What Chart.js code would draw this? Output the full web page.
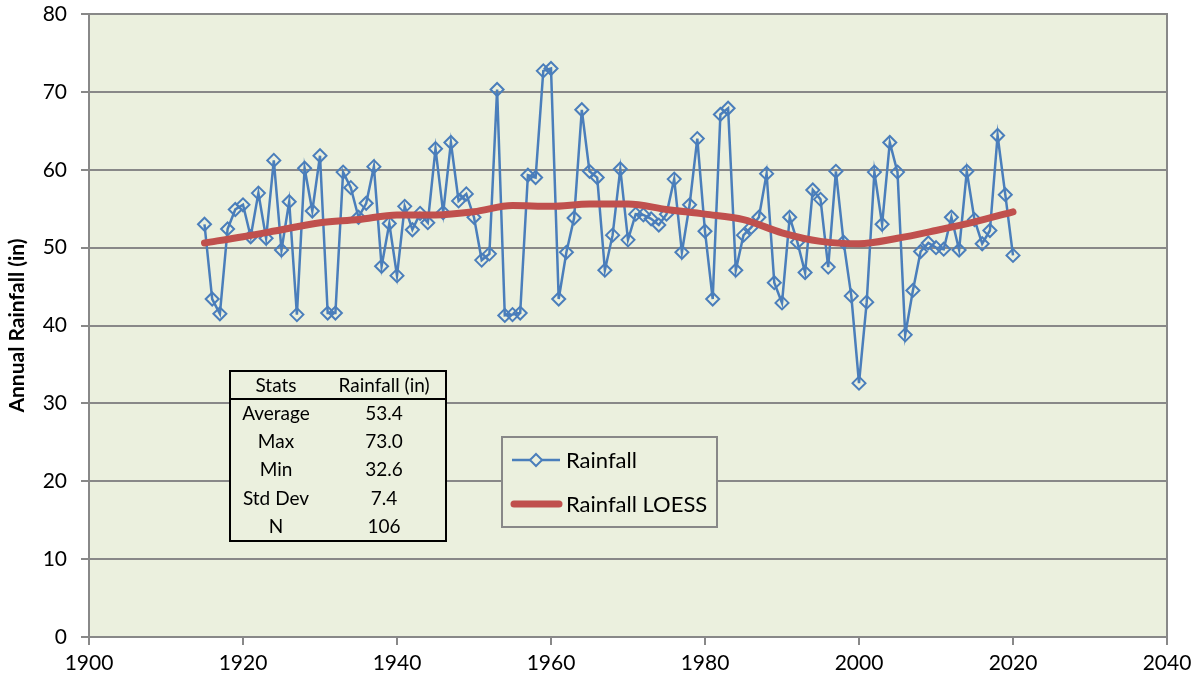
<!DOCTYPE html>
<html>
<head>
<meta charset="utf-8">
<script src="https://cdn.jsdelivr.net/npm/chart.js@4.4.0/dist/chart.umd.min.js"></script>
<style>
  html, body { margin: 0; padding: 0; background: #ffffff; }
  #wrap { width: 1198px; height: 684px; position: relative; }
</style>
</head>
<body>
<div id="wrap"><canvas id="c"></canvas></div>
<script>
const years = [1915,1916,1917,1918,1919,1920,1921,1922,1923,1924,1925,1926,1927,1928,1929,
  1930,1931,1932,1933,1934,1935,1936,1937,1938,1939,1940,1941,1942,1943,1944,
  1945,1946,1947,1948,1949,1950,1951,1952,1953,1954,1955,1956,1957,1958,1959,
  1960,1961,1962,1963,1964,1965,1966,1967,1968,1969,1970,1971,1972,1973,1974,
  1975,1976,1977,1978,1979,1980,1981,1982,1983,1984,1985,1986,1987,1988,1989,
  1990,1991,1992,1993,1994,1995,1996,1997,1998,1999,2000,2001,2002,2003,2004,
  2005,2006,2007,2008,2009,2010,2011,2012,2013,2014,2015,2016,2017,2018,2019,2020];

const rainfall = [53.0,43.4,41.5,52.4,54.9,55.5,51.4,57.0,51.2,61.2,49.7,55.9,41.4,60.2,54.7,
  61.8,41.6,41.6,59.7,57.7,53.9,55.7,60.4,47.6,53.1,46.4,55.3,52.3,54.4,53.2,
  62.7,54.5,63.5,56.0,56.9,53.9,48.4,49.2,70.3,41.3,41.4,41.6,59.3,59.0,72.7,
  73.0,43.4,49.4,53.8,67.7,59.8,59.0,47.1,51.6,60.1,51.0,54.3,54.2,53.7,52.9,
  54.3,58.8,49.4,55.5,64.0,52.1,43.4,67.1,67.9,47.1,51.6,52.6,53.9,59.5,45.5,
  42.9,53.9,50.7,46.8,57.4,56.2,47.5,59.8,50.7,43.8,32.6,43.0,59.7,53.0,63.5,
  59.7,38.8,44.5,49.5,50.6,50.0,49.8,53.9,49.7,59.8,53.6,50.5,52.2,64.4,56.8,49.0];

const loessYears = [1915,1920,1925,1930,1935,1940,1945,1950,1955,1960,1965,1970,1975,1980,1985,1990,1995,2000,2005,2010,2015,2020];
const loessValues = [50.6,51.4,52.3,53.2,53.6,54.2,54.2,54.6,55.4,55.3,55.6,55.6,54.9,54.3,53.6,51.9,50.8,50.5,51.2,52.2,53.3,54.6];

const seriesNames = ["Rainfall", "Rainfall LOESS"];
const statsHeader = ["Stats", "Rainfall (in)"];
const statsLabels = ["Average", "Max", "Min", "Std Dev", "N"];
const statsValues = ["53.4", "73.0", "32.6", "7.4", "106"];
const yTitle = "Annual Rainfall (in)";

const BLUE = "#4A7EBB";
const RED = "#C0504D";
const PLOT_BG = "#EBF0DE";
const GRID = "#888888";
const FONT = "Lato, 'Open Sans', sans-serif";

const rainData = years.map((y, i) => ({ x: y, y: rainfall[i] }));
const loessData = loessYears.map((y, i) => ({ x: y, y: loessValues[i] }));

const bgPlugin = {
  id: 'bgPlugin',
  beforeDraw(chart) {
    const { ctx, chartArea: a } = chart;
    ctx.save();
    ctx.fillStyle = PLOT_BG;
    ctx.fillRect(a.left, a.top, a.right - a.left, a.bottom - a.top);
    ctx.restore();
  },
  afterDatasetsDraw(chart) {
    const { ctx, chartArea: a } = chart;
    ctx.save();
    ctx.strokeStyle = GRID;
    ctx.lineWidth = 2;
    ctx.beginPath();
    ctx.moveTo(a.right, a.top - 1);
    ctx.lineTo(a.right, a.bottom);
    ctx.stroke();

    // Stats table
    const tx = 230, ty = 371, tw = 216, th = 170;
    ctx.fillStyle = PLOT_BG;
    ctx.fillRect(tx, ty, tw, th);
    ctx.strokeStyle = "#000000";
    ctx.lineWidth = 2;
    ctx.strokeRect(tx, ty, tw, th);
    ctx.beginPath();
    ctx.moveTo(tx, 399);
    ctx.lineTo(tx + tw, 399);
    ctx.stroke();
    ctx.fillStyle = "#000000";
    ctx.font = "19px " + FONT;
    ctx.textAlign = "center";
    ctx.textBaseline = "middle";
    ctx.fillText(statsHeader[0], 276, 386);
    ctx.fillText(statsHeader[1], 384, 386);
    const rowY = [414, 442, 470, 499, 527];
    statsLabels.forEach((l, i) => {
      ctx.fillText(l, 276, rowY[i]);
      ctx.fillText(statsValues[i], 384, rowY[i]);
    });

    // Legend
    const lx = 502, ly = 437, lw = 215, lh = 90;
    ctx.fillStyle = PLOT_BG;
    ctx.fillRect(lx, ly, lw, lh);
    ctx.strokeStyle = GRID;
    ctx.lineWidth = 2;
    ctx.strokeRect(lx, ly, lw, lh);
    ctx.strokeStyle = BLUE;
    ctx.lineWidth = 2.5;
    ctx.beginPath();
    ctx.moveTo(512, 460);
    ctx.lineTo(560, 460);
    ctx.stroke();
    ctx.fillStyle = PLOT_BG;
    ctx.lineWidth = 2;
    ctx.beginPath();
    ctx.moveTo(536, 454);
    ctx.lineTo(542, 460);
    ctx.lineTo(536, 466);
    ctx.lineTo(530, 460);
    ctx.closePath();
    ctx.fill();
    ctx.stroke();
    ctx.strokeStyle = RED;
    ctx.lineWidth = 7;
    ctx.lineCap = "round";
    ctx.beginPath();
    ctx.moveTo(514, 504);
    ctx.lineTo(559, 504);
    ctx.stroke();
    ctx.fillStyle = "#000000";
    ctx.font = "22px " + FONT;
    ctx.textAlign = "left";
    ctx.textBaseline = "middle";
    ctx.fillText(seriesNames[0], 566, 461);
    ctx.fillText(seriesNames[1], 566, 505);
    ctx.restore();
  }
};

new Chart(document.getElementById('c'), {
  type: 'line',
  data: {
    datasets: [
      {
        label: seriesNames[0],
        data: rainData,
        borderColor: BLUE,
        borderWidth: 2.5,
        pointStyle: 'rectRot',
        pointRadius: 6.5,
        pointBorderWidth: 2,
        pointBorderColor: BLUE,
        pointBackgroundColor: 'rgba(0,0,0,0)',
        tension: 0,
        order: 2
      },
      {
        label: seriesNames[1],
        data: loessData,
        borderColor: RED,
        borderWidth: 7,
        borderCapStyle: 'round',
        borderJoinStyle: 'round',
        pointRadius: 0,
        cubicInterpolationMode: 'monotone',
        order: 1
      }
    ]
  },
  options: {
    responsive: true,
    maintainAspectRatio: false,
    animation: false,
    layout: { padding: { top: 14, right: 31, left: 0, bottom: 0 } },
    plugins: {
      legend: { display: false },
      tooltip: { enabled: false },
      title: { display: false }
    },
    scales: {
      x: {
        type: 'linear',
        min: 1900,
        max: 2040,
        ticks: {
          stepSize: 20,
          color: '#000000',
          font: { family: FONT, size: 21 },
          padding: 6,
          maxRotation: 0,
          callback: v => String(v)
        },
        grid: { drawOnChartArea: false, drawTicks: true, tickLength: 8, color: GRID, lineWidth: 2 },
        border: { display: true, color: GRID, width: 2 },
        afterFit(scale) { scale.height = 47; scale.paddingRight = 0; scale.paddingLeft = 0; }
      },
      y: {
        min: 0,
        max: 80,
        ticks: {
          stepSize: 10,
          color: '#000000',
          font: { family: FONT, size: 21 },
          padding: 14
        },
        grid: { drawOnChartArea: true, drawTicks: true, tickLength: 8, color: GRID, lineWidth: 2 },
        border: { display: true, color: GRID, width: 2 },
        title: {
          display: true,
          text: yTitle,
          color: '#000000',
          font: { family: FONT, size: 21, weight: 'bold' },
          padding: { top: 5, bottom: 0 }
        },
        afterFit(scale) { scale.width = 89; scale.paddingTop = 0; scale.paddingBottom = 0; }
      }
    }
  },
  plugins: [bgPlugin]
});
</script>
</body>
</html>
